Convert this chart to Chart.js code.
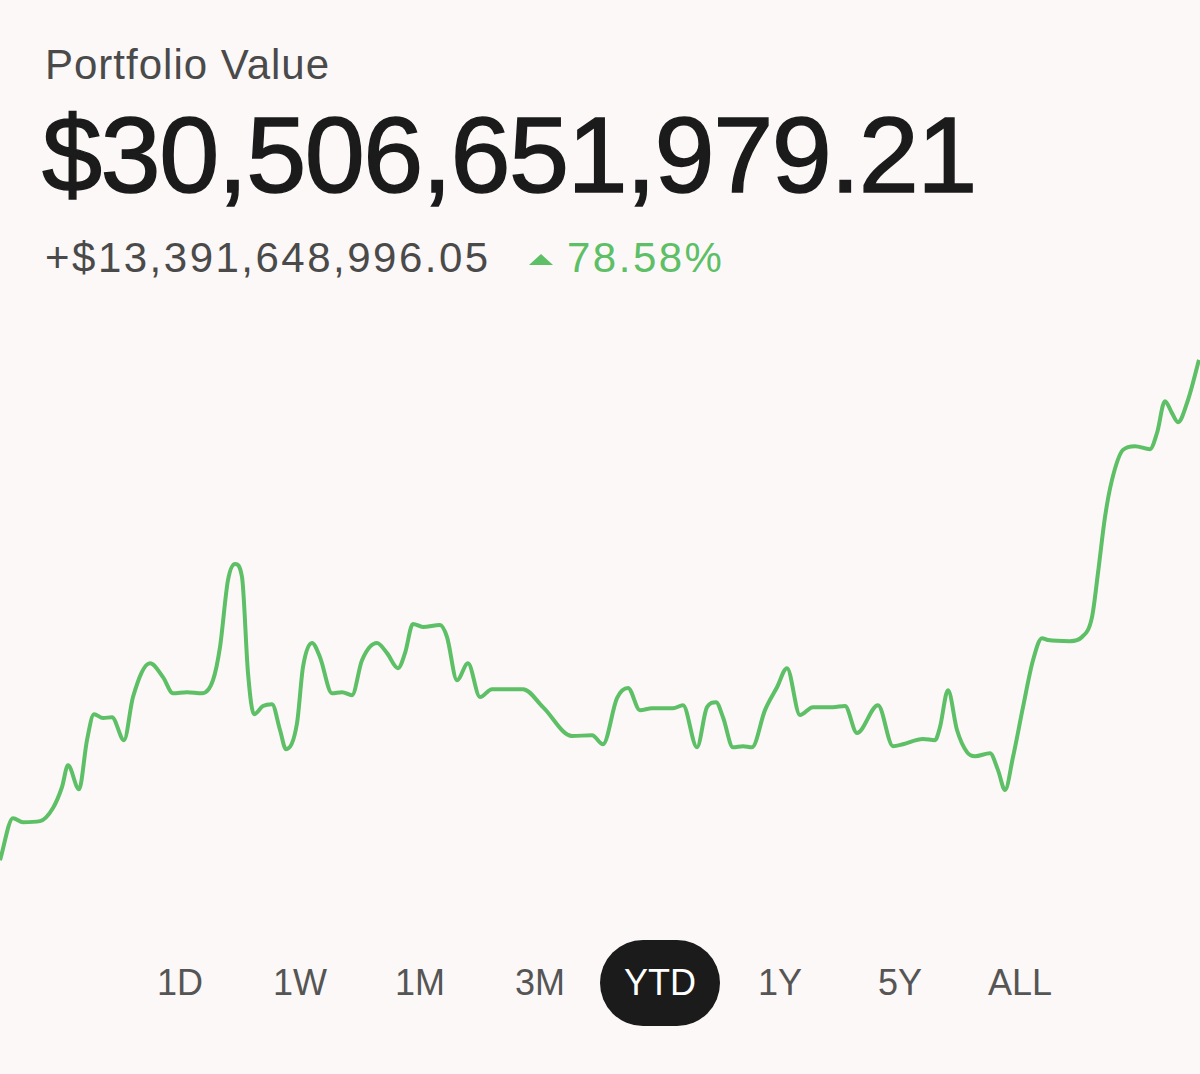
<!DOCTYPE html>
<html>
<head>
<meta charset="utf-8">
<script src="https://cdn.jsdelivr.net/npm/chart.js@4.4.1/dist/chart.umd.min.js"></script>
<style>
  html, body { margin: 0; padding: 0; }
  body { width: 1200px; height: 1074px; background: #fcf8f7; position: relative; overflow: hidden; font-family: "Liberation Sans", Arial, sans-serif; }
  .title { position: absolute; left: 45px; top: 41px; font-size: 42px; letter-spacing: 1px; color: #4a4a4a; }
  .value { position: absolute; left: 42px; top: 92px; font-size: 108px; color: #1b1b1b; letter-spacing: -1.5px; -webkit-text-stroke: 1.5px #1b1b1b; }
  .change { position: absolute; left: 45px; top: 234px; font-size: 42px; letter-spacing: 2.5px; color: #4a4a4a; }
  .pct { position: absolute; left: 529px; top: 234px; font-size: 42px; letter-spacing: 2.5px; color: #5dbf66; }
  .tri { display: inline-block; width: 0; height: 0; border-left: 12px solid transparent; border-right: 12px solid transparent; border-bottom: 11px solid #5dbf66; margin-right: 14px; vertical-align: 7px; }
  #wrap { position: absolute; left: 0; top: 340px; width: 1200px; height: 540px; }
  .ranges { position: absolute; left: 0; top: 940px; width: 1200px; height: 86px; }
  .ranges span { position: absolute; top: 0; width: 120px; height: 86px; line-height: 86px; text-align: center; font-size: 36px; color: #555; }
  .ranges span.on { background: #1b1b1b; color: #fff; border-radius: 43px; }
</style>
</head>
<body>
<div class="title">Portfolio Value</div>
<div class="value">$30,506,651,979.21</div>
<div class="change">+$13,391,648,996.05</div>
<div class="pct"><span class="tri"></span>78.58%</div>
<div id="wrap"><canvas id="chart"></canvas></div>
<div class="ranges" id="ranges"></div>

<script>
// DONNÉES (jour depuis le début de l'année, valeur en milliards $)
const days = [0, 1.3, 2.3, 4.0, 5.3, 6.2, 6.8, 7.9, 8.7, 9.4, 10.3, 11.2, 12.4, 13.3, 15.0, 16.3, 17.3, 18.7, 20.2, 21.3, 22.0, 22.8, 23.5, 24.2, 24.8, 25.4, 26.3, 27.2, 28.0, 28.6,
  29.7, 30.3, 31.2, 32.0, 33.2, 34.2, 35.2, 36.2, 37.7, 38.7, 39.8, 40.5, 41.3, 42.3, 44.0, 44.7, 45.7, 46.8, 48.0, 49.2, 52.3, 54.3, 57.2, 59.2,
  60.3, 61.7, 62.8, 64.0, 65.2, 67.3, 68.3, 69.7, 70.7, 71.6, 72.3, 73.3, 74.3, 75.2, 76.5, 77.7, 78.7, 80.0, 81.3, 83.3, 84.5, 85.7, 87.8, 89.3, 90.3, 92.3, 93.5, 94.0, 94.8, 95.7, 96.7, 97.5, 99.0,
  99.8, 100.5, 101.3, 102.3, 103.3, 104.2, 104.8, 107.0, 108.2, 109.2, 109.8, 110.5, 111.2, 112.3, 113.5, 115.0, 115.7, 116.5, 117.2, 117.8, 118.8, 119.9];
const values = [17.17, 18.29, 18.18, 18.21, 18.56, 19.12, 19.70, 19.06, 20.37, 21.06, 20.96, 20.98, 20.37, 21.52, 22.42, 22.05, 21.62, 21.65, 21.62, 21.97, 22.85, 24.64, 25.07, 24.72, 22.16, 21.06, 21.28, 21.33, 20.64, 20.13,
  20.82, 22.32, 22.96, 22.58, 21.62, 21.65, 21.57, 22.50, 22.96, 22.69, 22.29, 22.69, 23.47, 23.39, 23.44, 23.12, 21.97, 22.42, 21.52, 21.73, 21.73, 21.25, 20.48, 20.50,
  20.26, 21.49, 21.76, 21.17, 21.22, 21.22, 21.30, 20.18, 21.25, 21.38, 20.98, 20.18, 20.21, 20.18, 21.17, 21.78, 22.29, 21.04, 21.25, 21.25, 21.28, 20.56, 21.30, 20.21, 20.26, 20.40, 20.37, 20.72, 21.70, 20.64, 20.05, 19.94, 20.02,
  19.57, 19.04, 19.92, 21.25, 22.50, 23.09, 23.04, 23.01, 23.12, 23.65, 24.83, 26.32, 27.31, 28.11, 28.21, 28.13, 28.56, 29.41, 29.09, 28.85, 29.44, 30.51];
const ranges = ["1D", "1W", "1M", "3M", "YTD", "1Y", "5Y", "ALL"];
const activeRange = "YTD";

// BOUTONS DE PÉRIODE
const rangesEl = document.getElementById('ranges');
ranges.forEach((r, i) => {
    const s = document.createElement('span');
    s.textContent = r;
    s.style.left = (120 + i * 120) + 'px';
    if (r === activeRange) s.className = 'on';
    rangesEl.appendChild(s);
});

// GRAPHIQUE
const ctx = document.getElementById('chart').getContext('2d');
new Chart(ctx, {
    type: 'line',
    data: {
        datasets: [{
            data: days.map((d, i) => ({ x: d, y: values[i] })),
            borderColor: '#5dbf66',
            borderWidth: 4,
            pointRadius: 0,
            fill: false,
            cubicInterpolationMode: 'monotone'
        }]
    },
    options: {
        responsive: true,
        maintainAspectRatio: false,
        animation: false,
        layout: { padding: 0 },
        plugins: { legend: { display: false }, tooltip: { enabled: false } },
        scales: {
            x: { type: 'linear', min: 0, max: 120, display: false },
            y: { min: 16.64, max: 31.04, display: false }
        }
    }
});
</script>
</body>
</html>
